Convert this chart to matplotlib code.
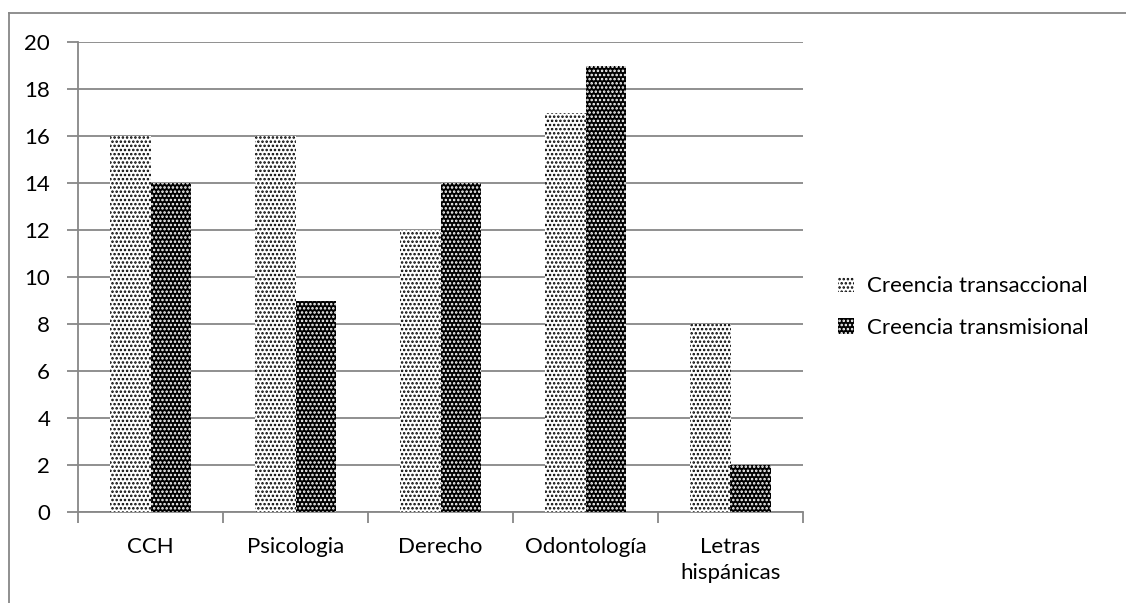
import numpy as np
import matplotlib.pyplot as plt
from matplotlib.lines import Line2D

categories = ["CCH", "Psicologia", "Derecho", "Odontología", "Letras\nhispánicas"]
transaccional = [16, 16, 12, 17, 8]
transmisional = [14, 9, 14, 19, 2]
series_names = ["Creencia transaccional", "Creencia transmisional"]

plt.rcParams['font.family'] = ['Lato', 'DejaVu Sans']
plt.rcParams['hatch.linewidth'] = 1.2

fig = plt.figure(figsize=(11.26, 6.03), dpi=100)
ax = fig.add_axes([78 / 1126, 91 / 603, 725 / 1126, 470 / 603])

grey = "#878787"
fs = 16
x = np.arange(len(categories))
w = 0.28

ax.bar(x - w / 2, transaccional, w, color="white", edgecolor="black",
       hatch="....", linewidth=0, zorder=3)
ax.bar(x + w / 2, transmisional, w, color="black", edgecolor="white",
       hatch="....", linewidth=0, zorder=3)

ax.set_xlim(-0.5, len(categories) - 0.5)
ax.set_ylim(0, 20)
ax.set_yticks(range(0, 21, 2))
ax.yaxis.grid(True, color=grey, linewidth=1.3, zorder=0)
ax.set_axisbelow(True)

ax.set_xticks(np.arange(len(categories) + 1) - 0.5)
ax.set_xticklabels([])
ax.set_xticks(x, minor=True)
ax.set_xticklabels(categories, minor=True, fontsize=fs, linespacing=1.4)
ax.tick_params(axis="x", which="minor", length=0, pad=18)
ax.tick_params(axis="x", which="major", length=8, color=grey, width=1.3)
ax.tick_params(axis="y", length=8, color=grey, width=1.3, labelsize=fs, pad=12)

for s in ["top", "right"]:
    ax.spines[s].set_visible(False)
for s in ["left", "bottom"]:
    ax.spines[s].set_color(grey)
    ax.spines[s].set_linewidth(1.3)

handles = [
    plt.Rectangle((0, 0), 1, 1, facecolor="white", edgecolor="black", hatch="....", linewidth=0),
    plt.Rectangle((0, 0), 1, 1, facecolor="black", edgecolor="white", hatch="....", linewidth=0),
]
fig.legend(handles, series_names, loc="center left", bbox_to_anchor=(838 / 1126, 1 - 307 / 603),
           frameon=False, fontsize=fs, handlelength=0.7, handleheight=0.7,
           handletextpad=0.6, labelspacing=0.95, borderpad=0, borderaxespad=0)

# outer chart border (top and left)
fig.add_artist(Line2D([9 / 1126, 1.0], [1 - 13 / 603, 1 - 13 / 603], color=grey, linewidth=1.3,
                      transform=fig.transFigure))
fig.add_artist(Line2D([9 / 1126, 9 / 1126], [0.0, 1 - 13 / 603], color=grey, linewidth=1.3,
                      transform=fig.transFigure))

fig.savefig("out.png", dpi=100)
